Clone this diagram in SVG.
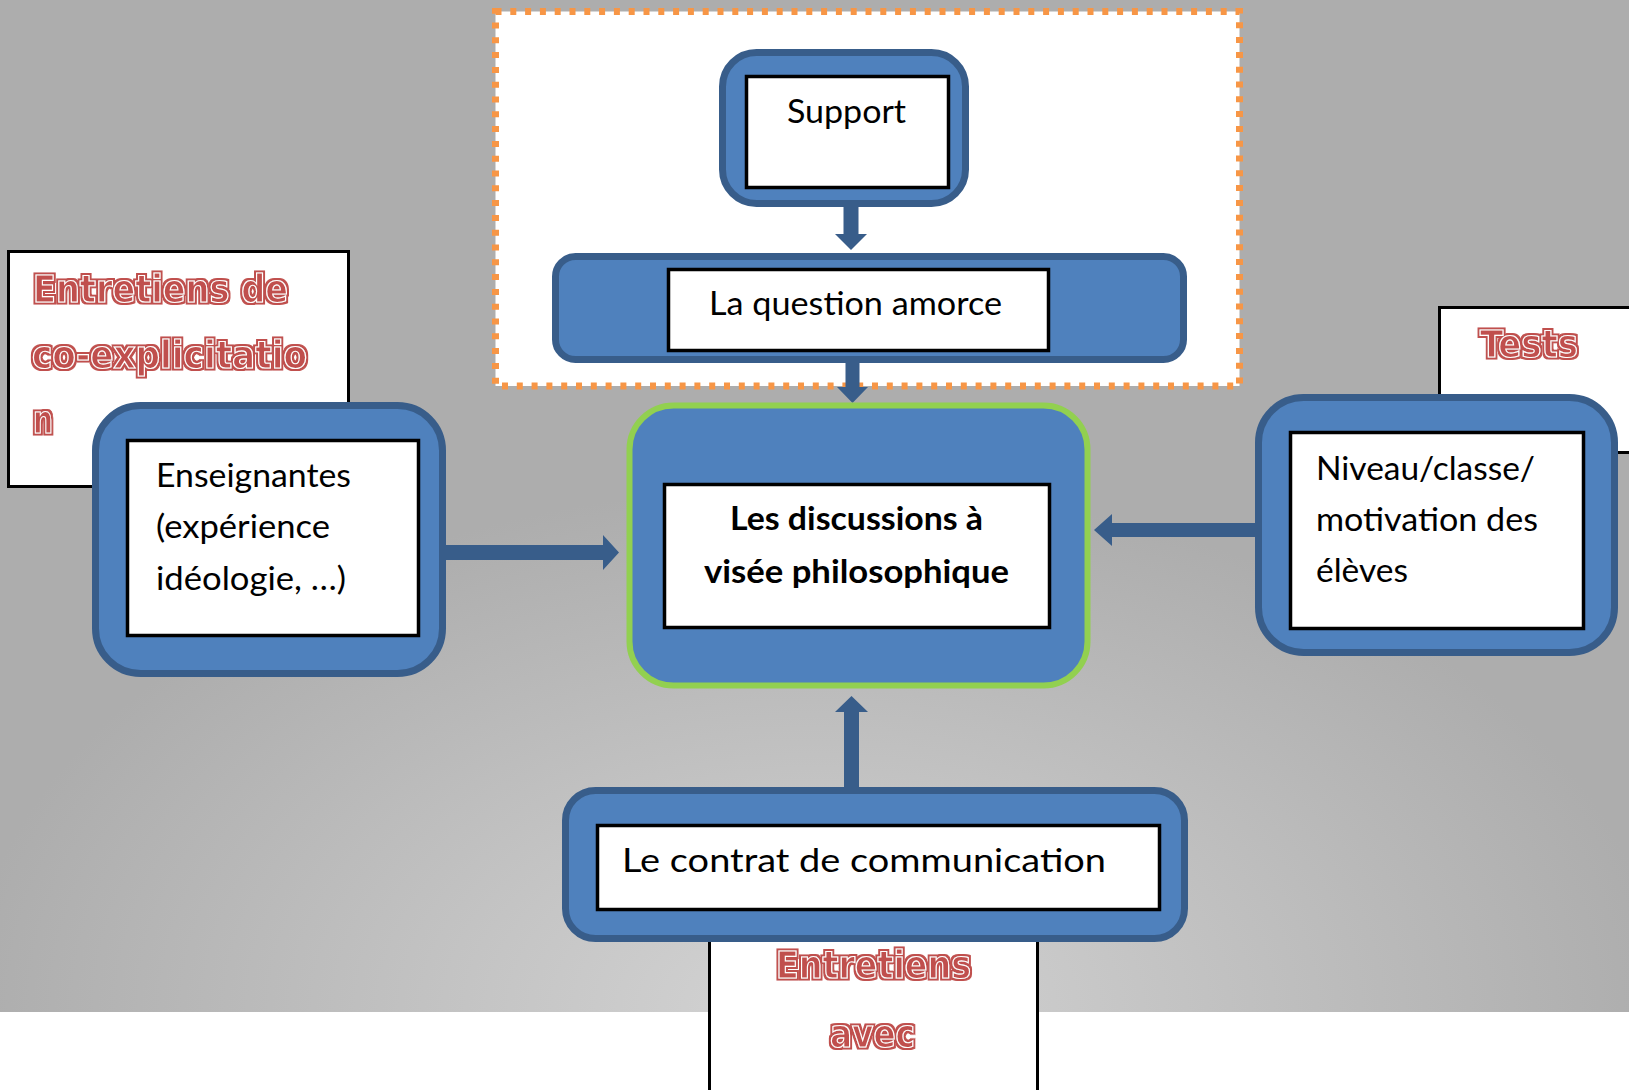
<svg xmlns="http://www.w3.org/2000/svg" width="1629" height="1090" viewBox="0 0 1629 1090">
<defs>
<radialGradient id="bg" gradientUnits="userSpaceOnUse" cx="815" cy="1012" r="850" gradientTransform="translate(815 1012) scale(1 0.62) translate(-815 -1012)">
<stop offset="0" stop-color="#d4d4d4"/>
<stop offset="1" stop-color="#adadad"/>
</radialGradient>
<filter id="wa" x="-10%" y="-30%" width="120%" height="160%">
<feMorphology in="SourceAlpha" operator="dilate" radius="2" result="d"/>
<feFlood flood-color="#c0504d"/>
<feComposite in2="d" operator="in" result="o"/>
<feMerge><feMergeNode in="o"/><feMergeNode in="SourceGraphic"/></feMerge>
</filter>
</defs>
<style>
.blue{fill:#4f81bd;stroke:#385d8a;stroke-width:7}
.inner{fill:#fff;stroke:#000;stroke-width:3.5}
.note{fill:#fff;stroke:#000;stroke-width:3}
.t{font-family:Lato,"Open Sans","Liberation Sans",sans-serif;font-size:33px;fill:#000}
.b{font-weight:bold}
.red{font-family:"DejaVu Sans Condensed","DejaVu Sans",sans-serif;font-weight:bold;font-size:37px;fill:#c0504d;stroke:#fff;stroke-width:1.1;filter:url(#wa)}
.arrow{fill:#385d8a}
</style>
<rect x="0" y="0" width="1629" height="1012" fill="url(#bg)"/>
<rect x="0" y="1012" width="1629" height="78" fill="#fff"/>

<g id="zone-support">
<rect x="495.5" y="11.5" width="744" height="374.5" fill="#fff" stroke="#f79646" stroke-width="7" stroke-dasharray="6 8.8"/>
</g>

<g id="note-coexplicitation">
<rect class="note" x="8.5" y="251.5" width="340" height="235"/>
<text class="red" x="33" y="302" textLength="255" lengthAdjust="spacingAndGlyphs">Entretiens de</text>
<text class="red" x="32" y="368" textLength="275" lengthAdjust="spacingAndGlyphs">co-explicitatio</text>
<text class="red" x="33" y="433" textLength="20" lengthAdjust="spacingAndGlyphs">n</text>
</g>

<g id="note-tests">
<rect class="note" x="1439.5" y="307.5" width="200" height="145"/>
<text class="red" x="1480" y="357" textLength="98" lengthAdjust="spacingAndGlyphs">Tests</text>
</g>

<g id="note-entretiens">
<rect class="note" x="709.5" y="900" width="328" height="200"/>
<text class="red" x="776" y="978" textLength="195" lengthAdjust="spacingAndGlyphs">Entretiens</text>
<text class="red" x="830" y="1047" textLength="85" lengthAdjust="spacingAndGlyphs">avec</text>
</g>

<g id="connectors">
<polygon class="arrow" points="843.5,205 858.5,205 858.5,234 867,234 851,250 835,234 843.5,234"/>
<polygon class="arrow" points="845.5,360 859.5,360 859.5,387 868,387 852.5,403 837,387 845.5,387"/>
<polygon class="arrow" points="444,545 603,545 603,535 619,552.5 603,570 603,560 444,560"/>
<polygon class="arrow" points="1258,523 1112,523 1112,514 1094,530 1112,546 1112,537 1258,537"/>
<polygon class="arrow" points="844,789 844,712 835,712 851.5,696 868,712 859,712 859,789"/>
</g>

<g id="node-support">
<rect class="blue" x="722.5" y="52.5" width="243" height="151" rx="34"/>
<rect class="inner" x="746.5" y="76.5" width="202" height="111"/>
<text class="t" x="787" y="123" textLength="119" lengthAdjust="spacingAndGlyphs">Support</text>
</g>

<g id="node-question">
<rect class="blue" x="555.5" y="256.5" width="628" height="103" rx="20"/>
<rect class="inner" x="668.5" y="269.5" width="380" height="81"/>
<text class="t" x="709" y="315" textLength="293" lengthAdjust="spacingAndGlyphs">La question amorce</text>
</g>

<g id="node-center">
<rect x="629.5" y="405.5" width="458" height="280" rx="44" fill="#4f81bd" stroke="#92d050" stroke-width="6"/>
<rect class="inner" x="664.5" y="484.5" width="385" height="143"/>
<text class="t b" x="730" y="530" textLength="253" lengthAdjust="spacingAndGlyphs">Les discussions à</text>
<text class="t b" x="704" y="583" textLength="305" lengthAdjust="spacingAndGlyphs">visée philosophique</text>
</g>

<g id="node-enseignantes">
<rect class="blue" x="95.5" y="405.5" width="347" height="268" rx="45"/>
<rect class="inner" x="127.5" y="440.5" width="291" height="195"/>
<text class="t" x="156" y="487" textLength="195" lengthAdjust="spacingAndGlyphs">Enseignantes</text>
<text class="t" x="156" y="538" textLength="174" lengthAdjust="spacingAndGlyphs">(expérience</text>
<text class="t" x="156" y="590" textLength="190" lengthAdjust="spacingAndGlyphs">idéologie, …)</text>
</g>

<g id="node-niveau">
<rect class="blue" x="1258.5" y="397.5" width="356" height="255" rx="45"/>
<rect class="inner" x="1290.5" y="432.5" width="293" height="196"/>
<text class="t" x="1316" y="480" textLength="219" lengthAdjust="spacingAndGlyphs">Niveau/classe/</text>
<text class="t" x="1316" y="531" textLength="222" lengthAdjust="spacingAndGlyphs">motivation des</text>
<text class="t" x="1316" y="582" textLength="92" lengthAdjust="spacingAndGlyphs">élèves</text>
</g>

<g id="node-contrat">
<rect class="blue" x="565.5" y="790.5" width="619" height="148" rx="30"/>
<rect class="inner" x="597.5" y="825.5" width="562" height="84"/>
<text class="t" x="622" y="872" textLength="484" lengthAdjust="spacingAndGlyphs">Le contrat de communication</text>
</g>
</svg>
